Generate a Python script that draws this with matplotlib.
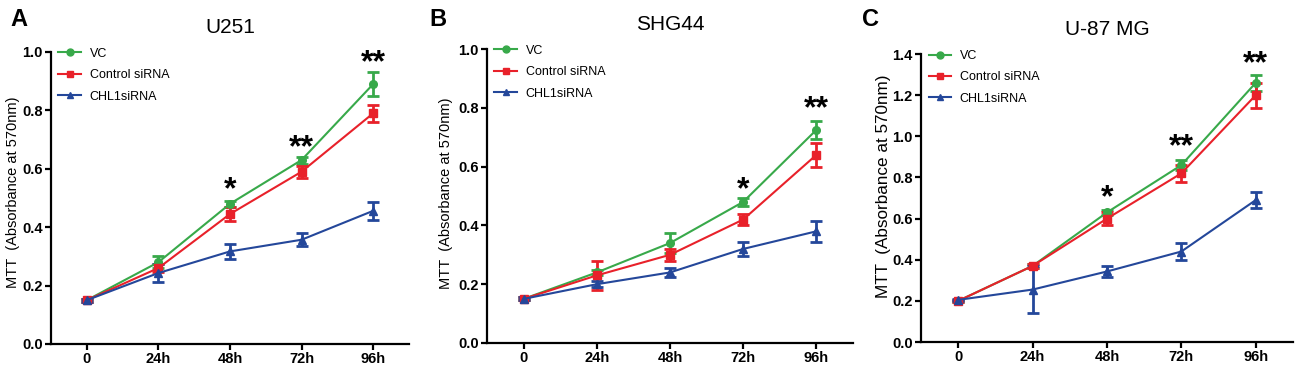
import matplotlib.pyplot as plt
from matplotlib.lines import Line2D

plt.rcParams['font.family'] = ['Liberation Sans', 'DejaVu Sans']

times = ["0", "24h", "48h", "72h", "96h"]
series_names = ["VC", "Control siRNA", "CHL1siRNA"]
colors = ["#38a94a", "#e8212a", "#24479a"]
markers = ["o", "s", "^"]

# panel A - U251
u251_mean = [
    [0.15, 0.28, 0.48, 0.63, 0.89],
    [0.15, 0.26, 0.445, 0.59, 0.79],
    [0.15, 0.243, 0.317, 0.357, 0.456],
]
u251_err = [
    [0.005, 0.02, 0.01, 0.012, 0.04],
    [0.005, 0.015, 0.025, 0.02, 0.03],
    [0.005, 0.03, 0.025, 0.022, 0.03],
]
u251_stars = [(2, 0.525, "*"), (3, 0.67, "**"), (4, 0.96, "**")]

# panel B - SHG44
shg44_mean = [
    [0.15, 0.24, 0.34, 0.48, 0.725],
    [0.15, 0.23, 0.30, 0.42, 0.64],
    [0.15, 0.20, 0.24, 0.32, 0.38],
]
shg44_err = [
    [0.005, 0.01, 0.035, 0.015, 0.03],
    [0.005, 0.05, 0.02, 0.02, 0.04],
    [0.005, 0.01, 0.015, 0.025, 0.035],
]
shg44_stars = [(3, 0.52, "*"), (4, 0.795, "**")]

# panel C - U-87 MG
u87_mean = [
    [0.20, 0.37, 0.63, 0.86, 1.26],
    [0.20, 0.37, 0.60, 0.82, 1.20],
    [0.205, 0.255, 0.343, 0.44, 0.69],
]
u87_err = [
    [0.005, 0.01, 0.01, 0.025, 0.04],
    [0.005, 0.01, 0.03, 0.04, 0.06],
    [0.005, 0.115, 0.025, 0.04, 0.04],
]
u87_stars = [(2, 0.70, "*"), (3, 0.945, "**"), (4, 1.35, "**")]

# letter, title, means, errs, stars, ymax, axes rect, letter x, ylabel (x, y, size)
panels = [
    ("A", "U251", u251_mean, u251_err, u251_stars, 1.0, [0.0392, 0.0753, 0.2754, 0.785], 0.008, (-0.087, 0.52, 10.5)),
    ("B", "SHG44", shg44_mean, shg44_err, shg44_stars, 1.0, [0.3746, 0.078, 0.2815, 0.790], 0.330, (-0.093, 0.51, 10.5)),
    ("C", "U-87 MG", u87_mean, u87_err, u87_stars, 1.4, [0.7085, 0.0806, 0.286, 0.774], 0.663, (-0.081, 0.54, 12.3)),
]

fig = plt.figure(figsize=(13, 3.72), dpi=100)

for letter, title, means, errs, stars, ymax, pos, letter_x, ylab in panels:
    ax = fig.add_axes(pos)
    x = list(range(len(times)))
    for name, m, e, c, mk in zip(series_names, means, errs, colors, markers):
        ax.errorbar(x, m, yerr=e, color=c, marker=mk, markersize=5.5, lw=1.5,
                    elinewidth=2, capsize=4, capthick=2)
    for xi, yi, s in stars:
        ax.text(xi, yi, s, ha="center", va="center", fontsize=23, fontweight="bold")
    ax.set_xlim(-0.5, 4.5)
    ax.set_ylim(0, ymax)
    ax.set_xticks(x)
    ax.set_xticklabels(times)
    ax.set_yticks([i * 0.2 for i in range(int(round(ymax / 0.2)) + 1)])
    ax.yaxis.set_major_formatter(plt.FormatStrFormatter("%.1f"))
    for lab in ax.get_xticklabels() + ax.get_yticklabels():
        lab.set_fontweight("bold")
        lab.set_fontsize(10.5)
    ax.spines["top"].set_visible(False)
    ax.spines["right"].set_visible(False)
    ax.spines["left"].set_linewidth(1.6)
    ax.spines["bottom"].set_linewidth(1.6)
    ax.tick_params(width=1.6, length=4, pad=2)
    ax.set_ylabel("MTT  (Absorbance at 570nm)", fontsize=ylab[2])
    ax.yaxis.set_label_coords(ylab[0], ylab[1])
    ax.set_title(title, fontsize=15, pad=14)
    handles = [Line2D([], [], color=c, marker=mk, markersize=5, lw=1.5)
               for c, mk in zip(colors, markers)]
    ax.legend(handles, series_names, loc="upper left", frameon=False, fontsize=9,
              handlelength=1.8, handletextpad=0.7, borderaxespad=0.2,
              labelspacing=0.75, bbox_to_anchor=(0.0, 1.04))
    fig.text(letter_x, 0.93, letter, fontsize=17, fontweight="bold")

fig.savefig("out.png", dpi=100)
